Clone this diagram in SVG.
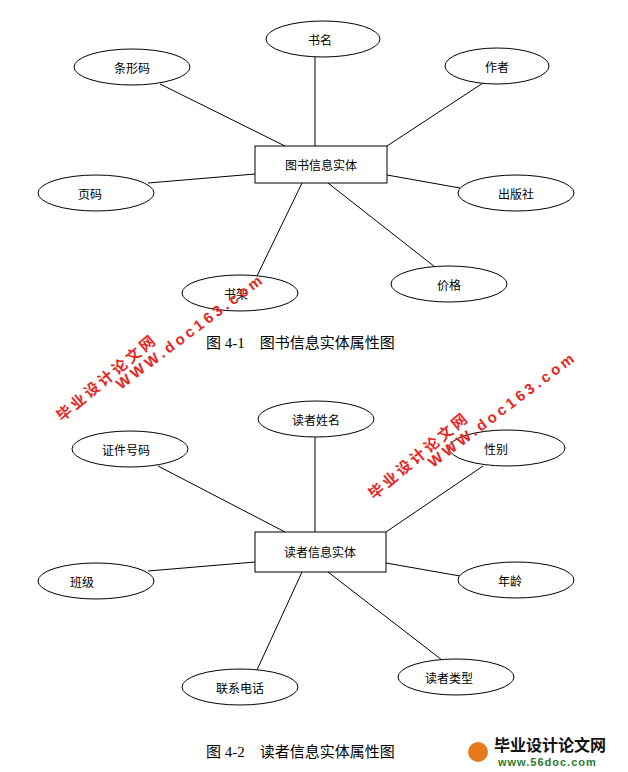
<svg xmlns="http://www.w3.org/2000/svg" width="628" height="772" viewBox="0 0 628 772">
<style>
.n{fill:#fff;stroke:#000;stroke-width:1}
.t{font-family:"Noto Sans CJK SC","Liberation Serif",serif;font-size:12px;text-anchor:middle;dominant-baseline:central}
.c{stroke:#000;stroke-width:1}
.cap{font-family:"Liberation Serif","Noto Sans CJK SC",serif;font-size:15px;white-space:pre}
.wm{font-family:"Liberation Sans","Noto Sans CJK SC",sans-serif;font-weight:bold;fill:#e8261e}
.zh{font-size:15px;letter-spacing:3px}
.en{font-size:15px;letter-spacing:3.5px}
</style>
<rect width="628" height="772" fill="#fff"/>
<g id="connectors">
<line class="c" x1="315" y1="57" x2="315" y2="146"/>
<line class="c" x1="160" y1="84" x2="285" y2="146"/>
<line class="c" x1="483" y1="83" x2="387" y2="146"/>
<line class="c" x1="148" y1="183" x2="255" y2="174"/>
<line class="c" x1="460" y1="188" x2="387" y2="175"/>
<line class="c" x1="257" y1="276" x2="302" y2="183"/>
<line class="c" x1="435" y1="267" x2="328" y2="183"/>
<line class="c" x1="315" y1="437" x2="315" y2="532"/>
<line class="c" x1="158" y1="466" x2="285" y2="532"/>
<line class="c" x1="483" y1="466" x2="386" y2="532"/>
<line class="c" x1="148" y1="571" x2="255" y2="562"/>
<line class="c" x1="460" y1="576" x2="386" y2="563"/>
<line class="c" x1="257" y1="670" x2="302" y2="572"/>
<line class="c" x1="442" y1="660" x2="328" y2="572"/>
</g>
<g id="book"><rect class="n" x="255" y="146" width="132" height="37"/><text class="t" x="321" y="164">图书信息实体</text></g>
<g id="bookname"><ellipse class="n" cx="323" cy="39" rx="57" ry="18"/><text class="t" x="320" y="39">书名</text></g>
<g id="barcode"><ellipse class="n" cx="132" cy="67" rx="58" ry="18"/><text class="t" x="132" y="67">条形码</text></g>
<g id="author"><ellipse class="n" cx="497" cy="66" rx="52" ry="18"/><text class="t" x="497" y="66">作者</text></g>
<g id="pages"><ellipse class="n" cx="96" cy="193" rx="58" ry="18"/><text class="t" x="90" y="193">页码</text></g>
<g id="publisher"><ellipse class="n" cx="516" cy="193" rx="58" ry="18"/><text class="t" x="516" y="193">出版社</text></g>
<g id="shelf"><ellipse class="n" cx="240" cy="293" rx="58" ry="18"/><text class="t" x="236" y="293">书架</text></g>
<g id="price"><ellipse class="n" cx="449" cy="284" rx="58" ry="18"/><text class="t" x="449" y="284">价格</text></g>
<text class="cap" x="206" y="348" xml:space="preserve">图 4-1    图书信息实体属性图</text>
<g id="reader"><rect class="n" x="255" y="532" width="131" height="40"/><text class="t" x="320" y="551">读者信息实体</text></g>
<g id="rname"><ellipse class="n" cx="316" cy="419" rx="58" ry="18"/><text class="t" x="316" y="419">读者姓名</text></g>
<g id="idno"><ellipse class="n" cx="130" cy="449" rx="58" ry="18"/><text class="t" x="126" y="449">证件号码</text></g>
<g id="sex"><ellipse class="n" cx="507" cy="448" rx="58" ry="18"/><text class="t" x="496" y="448">性别</text></g>
<g id="cls"><ellipse class="n" cx="96" cy="581" rx="58" ry="18"/><text class="t" x="82" y="581">班级</text></g>
<g id="age"><ellipse class="n" cx="516" cy="580" rx="58" ry="18"/><text class="t" x="510" y="580">年龄</text></g>
<g id="phone"><ellipse class="n" cx="240" cy="687" rx="58" ry="18"/><text class="t" x="240" y="687">联系电话</text></g>
<g id="rtype"><ellipse class="n" cx="456" cy="677" rx="58" ry="18"/><text class="t" x="449" y="677">读者类型</text></g>
<text class="cap" x="206" y="757" xml:space="preserve">图 4-2    读者信息实体属性图</text>
<g id="watermarks">
<text class="wm zh" transform="translate(62,422) rotate(-40)">毕业设计论文网</text>
<text class="wm en" transform="translate(121,390) rotate(-37)">WWW.doc163.com</text>
<text class="wm zh" transform="translate(374,500) rotate(-40)">毕业设计论文网</text>
<text class="wm en" transform="translate(433,468) rotate(-37)">WWW.doc163.com</text>
<circle cx="478" cy="752" r="10" fill="#e87a1e"/>
<text x="494" y="751" style="font-family:'Noto Sans CJK SC',sans-serif;font-weight:bold;font-size:16px;fill:#111">毕业设计论文网</text>
<text x="498" y="766" style="font-family:'Liberation Sans',sans-serif;font-weight:bold;font-size:11px;fill:#2a7a2a;letter-spacing:1px">www.56doc.com</text>
</g>
</svg>
